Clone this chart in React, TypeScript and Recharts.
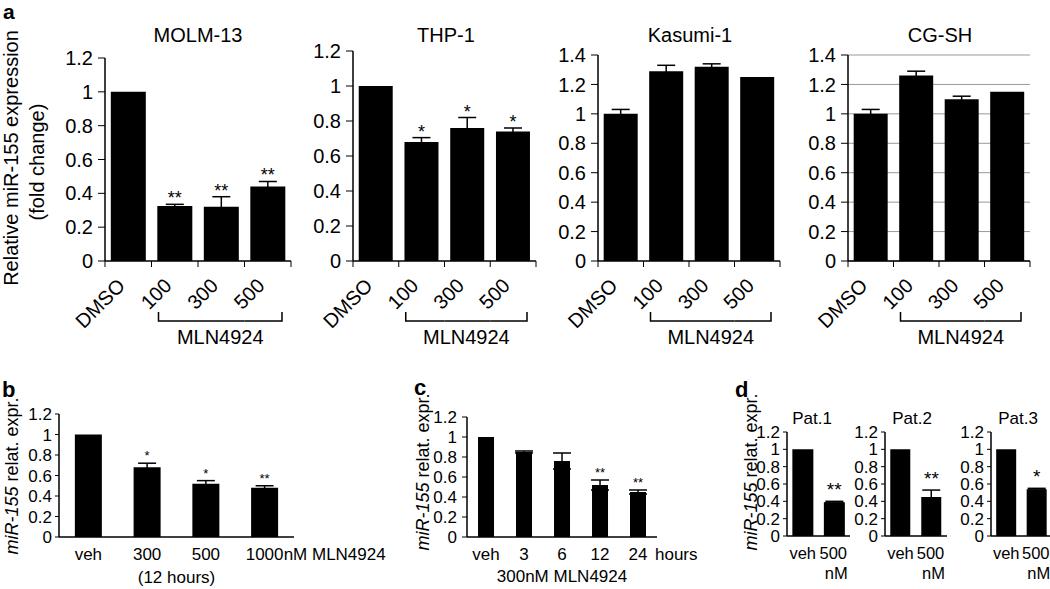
import React from 'react';
import { ComposedChart, Bar, Line, XAxis, YAxis, CartesianGrid, ErrorBar, LabelList } from 'recharts';

// values
const doseCats = ['DMSO', '100', '300', '500'];

const molmVals = [1.0, 0.325, 0.32, 0.44];
const molmErr = [0, 0.01, 0.06, 0.03];
const molmSig = ['', '**', '**', '**'];

const thpVals = [1.0, 0.68, 0.76, 0.74];
const thpErr = [0, 0.025, 0.06, 0.02];
const thpSig = ['', '*', '*', '*'];

const kasumiVals = [1.0, 1.29, 1.32, 1.25];
const kasumiErr = [0.03, 0.04, 0.02, 0];

const cgshVals = [1.0, 1.26, 1.1, 1.15];
const cgshErr = [0.03, 0.03, 0.02, 0];

const noSig = ['', '', '', ''];

const ticks12 = [0, 0.2, 0.4, 0.6, 0.8, 1, 1.2];
const ticks14 = [0, 0.2, 0.4, 0.6, 0.8, 1, 1.2, 1.4];

const concCats = ['veh', '300', '500', '1000'];
const concVals = [1.0, 0.68, 0.52, 0.48];
const concErr = [0, 0.04, 0.03, 0.02];
const concSig = ['', '*', '*', '**'];

const timeCats = ['veh', '3', '6', '12', '24'];
const timeVals = [1.0, 0.85, 0.76, 0.52, 0.45];
const timeErr = [0, 0.01, 0.08, 0.05, 0.02];
const timeSig = ['', '', '', '**', '**'];

const patCats = ['veh', '500'];
const pat1Vals = [1.0, 0.39];
const pat1Err = [0, 0.01];
const pat1Sig = ['', '**'];
const pat2Vals = [1.0, 0.45];
const pat2Err = [0, 0.08];
const pat2Sig = ['', '**'];
const pat3Vals = [1.0, 0.54];
const pat3Err = [0, 0.01];
const pat3Sig = ['', '*'];

const FONT = '"Liberation Sans", Arial, sans-serif';

type Row = { cat: string; v: number; e: number; top: number; sig: string };

const rows = (cats: string[], vals: number[], errs: number[], sig: string[]): Row[] =>
  cats.map((cat, i) => ({ cat, v: vals[i], e: errs[i], top: vals[i] + errs[i], sig: sig[i] }));

// rotated dose labels with boundary ticks and the MLN4924 bracket (panel a)
const doseTick = (n: number, half: number) => (props: any) => {
  const { x, y, payload, index } = props;
  const h = payload?.offset ?? half;
  const l = x - h;
  const r = x + h;
  const tx = x - 2;
  const ty = y + 26;
  return (
    <g>
      <line x1={l} y1={y} x2={l} y2={y + 6} stroke="#000" />
      {index === n - 1 && <line x1={r} y1={y} x2={r} y2={y + 6} stroke="#000" />}
      <text x={tx} y={ty} textAnchor="end" fontSize={20} fill="#000" transform={`rotate(-45 ${tx} ${ty})`}>
        {payload.value}
      </text>
      {index === 1 && <path d={`M ${l + 7} ${y + 51} V ${y + 60} H ${r}`} stroke="#000" strokeWidth={1.5} fill="none" />}
      {index === 2 && <path d={`M ${l} ${y + 60} H ${r}`} stroke="#000" strokeWidth={1.5} fill="none" />}
      {index === 3 && <path d={`M ${l} ${y + 60} H ${r - 9} V ${y + 51}`} stroke="#000" strokeWidth={1.5} fill="none" />}
      {index === 2 && (
        <text x={x - 1} y={y + 83} textAnchor="middle" fontSize={20} fill="#000">MLN4924</text>
      )}
    </g>
  );
};

const concTick = (half: number) => (props: any) => {
  const { x, y, payload, index } = props;
  const h = payload?.offset ?? half;
  return (
    <g fontSize={17} fill="#000">
      <text x={x} y={y + 23} textAnchor="middle">{payload.value}</text>
      {index === 3 && <text x={x + 19} y={y + 23} textAnchor="start">nM MLN4924</text>}
      {index === 1 && <text x={x + h} y={y + 46} textAnchor="middle">(12 hours)</text>}
    </g>
  );
};

const timeTick = (props: any) => {
  const { x, y, payload, index } = props;
  return (
    <g fontSize={17} fill="#000">
      <text x={x} y={y + 23} textAnchor="middle">{payload.value}</text>
      {index === 4 && <text x={x + 17} y={y + 23} textAnchor="start">hours</text>}
      {index === 2 && <text x={x} y={y + 45} textAnchor="middle">300nM MLN4924</text>}
    </g>
  );
};

const patTick = (props: any) => {
  const { x, y, payload, index } = props;
  return (
    <g fontSize={16.5} fill="#000">
      <text x={index === 1 ? x - 1 : x} y={y + 23} textAnchor="middle">{payload.value}</text>
      {index === 1 && <text x={x + 2} y={y + 43} textAnchor="middle">nM</text>}
    </g>
  );
};

interface PanelProps {
  x: number;
  y: number;
  w: number;
  h: number;
  data: Row[];
  max: number;
  ticks: number[];
  yFont: number;
  tickLen: number;
  tickGap: number;
  gap: string;
  xH: number;
  tick: any;
  starFont: number;
  starLift: number;
  grid?: boolean;
}

function Panel(p: PanelProps) {
  const yW = 50;
  const mt = 14;
  const mr = 2;
  const star = (lp: any) => {
    if (!lp.value) return null;
    const bx = lp.viewBox?.x ?? lp.x;
    const by = lp.viewBox?.y ?? lp.y;
    const bw = lp.viewBox?.width ?? 0;
    return (
      <text x={bx + bw / 2} y={by - p.starLift} textAnchor="middle" fontSize={p.starFont} fill="#000">
        {lp.value}
      </text>
    );
  };
  return (
    <div style={{ position: 'absolute', left: p.x - yW, top: p.y - mt }}>
      <ComposedChart
        width={yW + p.w + mr}
        height={mt + p.h + p.xH}
        data={p.data}
        margin={{ top: mt, right: mr, bottom: 0, left: 0 }}
        barCategoryGap={p.gap}
      >
        {p.grid && <CartesianGrid vertical={false} stroke="#999" strokeWidth={1} />}
        <XAxis
          dataKey="cat"
          height={p.xH}
          interval={0}
          axisLine={{ stroke: '#000', strokeWidth: 1.5 }}
          tickLine={false}
          tickSize={0}
          tickMargin={0}
          tick={p.tick}
        />
        <XAxis
          xAxisId="top"
          dataKey="cat"
          orientation="top"
          height={0}
          tick={false}
          tickLine={false}
          axisLine={{ stroke: '#000', strokeWidth: 1.5 }}
        />
        <YAxis
          domain={[0, p.max]}
          ticks={p.ticks}
          interval={0}
          width={yW}
          tickSize={p.tickLen}
          tickMargin={p.tickGap}
          tick={{ fontSize: p.yFont, fill: '#000' }}
          axisLine={{ stroke: '#000', strokeWidth: 1.5 }}
          tickLine={{ stroke: '#000' }}
        />
        <YAxis
          yAxisId="right"
          orientation="right"
          domain={[0, p.max]}
          width={0}
          tick={false}
          tickLine={false}
          axisLine={{ stroke: '#000', strokeWidth: 1.5 }}
        />
        <Bar dataKey="v" fill="#000" isAnimationActive={false}>
          <ErrorBar dataKey="e" width={9} stroke="#000" strokeWidth={1.5} direction="y" isAnimationActive={false} />
        </Bar>
        <Line
          dataKey="top"
          stroke="none"
          dot={false}
          activeDot={false}
          legendType="none"
          isAnimationActive={false}
        >
          <LabelList dataKey="sig" content={star} />
        </Line>
      </ComposedChart>
    </div>
  );
}

const aCommon = {
  yFont: 20,
  tickLen: 7,
  tickGap: 5,
  gap: '12.5%',
  xH: 95,
  starFont: 18,
  starLift: 0,
};

const smallCommon = {
  yFont: 17,
  tickLen: 4,
  tickGap: 3,
  max: 1.2,
  ticks: ticks12,
};

function YTitle({ x, y, children }: { x: number; y: number; children: React.ReactNode }) {
  return (
    <text x={x} y={y} textAnchor="middle" fontSize={18} fill="#000" transform={`rotate(-90 ${x} ${y})`}>
      {children}
    </text>
  );
}

const miLabel = (
  <>
    <tspan fontStyle="italic">miR-155</tspan>
    <tspan> relat. expr.</tspan>
  </>
);

export default function App() {
  return (
    <div
      style={{
        position: 'absolute',
        left: 0,
        top: 0,
        width: 1050,
        height: 589,
        overflow: 'hidden',
        background: '#fff',
        fontFamily: FONT,
      }}
    >
      <style>{'.recharts-surface{overflow:visible}'}</style>

      <Panel {...aCommon} x={105} y={58} w={186} h={203} max={1.2} ticks={ticks12}
        data={rows(doseCats, molmVals, molmErr, molmSig)} tick={doseTick(4, 186 / 8)} />
      <Panel {...aCommon} x={353} y={51} w={183} h={210} max={1.2} ticks={ticks12}
        data={rows(doseCats, thpVals, thpErr, thpSig)} tick={doseTick(4, 183 / 8)} />
      <Panel {...aCommon} x={598} y={55} w={182} h={206} max={1.4} ticks={ticks14}
        data={rows(doseCats, kasumiVals, kasumiErr, noSig)} tick={doseTick(4, 182 / 8)} />
      <Panel {...aCommon} x={848} y={55} w={182} h={206} max={1.4} ticks={ticks14} grid
        data={rows(doseCats, cgshVals, cgshErr, noSig)} tick={doseTick(4, 182 / 8)} />

      <Panel {...smallCommon} x={59} y={414} w={235} h={123} gap="27%" xH={55} starFont={13} starLift={3}
        data={rows(concCats, concVals, concErr, concSig)} tick={concTick(235 / 8)} />

      <Panel {...smallCommon} x={467} y={417} w={190} h={120} tickLen={5} tickGap={5} gap="29%" xH={55}
        starFont={13} starLift={3} data={rows(timeCats, timeVals, timeErr, timeSig)} tick={timeTick} />

      <Panel {...smallCommon} x={787} y={432} w={63} h={104} gap="17%" xH={55} starFont={19} starLift={5}
        data={rows(patCats, pat1Vals, pat1Err, pat1Sig)} tick={patTick} />
      <Panel {...smallCommon} x={885} y={432} w={62} h={104} gap="17%" xH={55} starFont={19} starLift={5}
        data={rows(patCats, pat2Vals, pat2Err, pat2Sig)} tick={patTick} />
      <Panel {...smallCommon} x={991} y={432} w={61} h={104} gap="17%" xH={55} starFont={19} starLift={5}
        data={rows(patCats, pat3Vals, pat3Err, pat3Sig)} tick={patTick} />

      <svg width={1050} height={589} style={{ position: 'absolute', left: 0, top: 0, pointerEvents: 'none' }}
        fontFamily={FONT}>
        <text x={3} y={19} fontSize={21} fontWeight="bold">a</text>
        <text x={2} y={397} fontSize={22} fontWeight="bold">b</text>
        <text x={414} y={395} fontSize={22} fontWeight="bold">c</text>
        <text x={735} y={397} fontSize={22} fontWeight="bold">d</text>

        <g fontSize={20} textAnchor="middle" fill="#000">
          <text x={198} y={42}>MOLM-13</text>
          <text x={446} y={42}>THP-1</text>
          <text x={690} y={42}>Kasumi-1</text>
          <text x={940} y={42}>CG-SH</text>
        </g>
        <g fontSize={17} textAnchor="middle" fill="#000">
          <text x={812} y={424}>Pat.1</text>
          <text x={912} y={424}>Pat.2</text>
          <text x={1018} y={424}>Pat.3</text>
        </g>

        <text x={18} y={158} textAnchor="middle" fontSize={20} transform="rotate(-90 18 158)">
          Relative miR-155 expression
        </text>
        <text x={44} y={162} textAnchor="middle" fontSize={20} transform="rotate(-90 44 162)">
          (fold change)
        </text>

        <YTitle x={18} y={476}>{miLabel}</YTitle>
        <YTitle x={429} y={472}>{miLabel}</YTitle>
        <YTitle x={757} y={472}>{miLabel}</YTitle>
      </svg>
    </div>
  );
}
